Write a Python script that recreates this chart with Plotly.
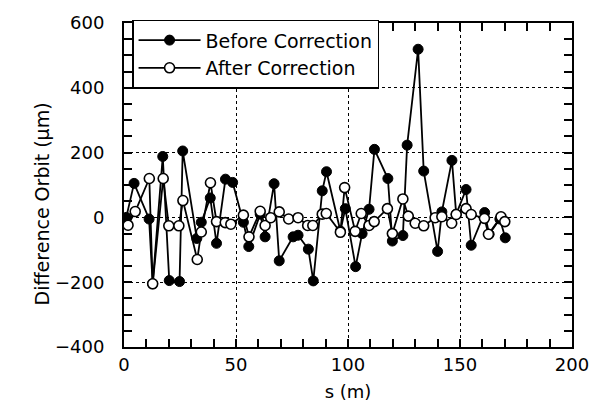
import plotly.graph_objects as go

# Before Correction (filled markers)
s_before = [1.0, 4.5, 11.2, 12.8, 17.3, 20.2, 24.8, 26.2, 32.5, 34.5, 38.5, 41.3,
            45.3, 48.5, 53.3, 55.7, 60.8, 63.0, 67.0, 69.3, 75.5, 77.7, 82.3, 84.5,
            88.5, 90.4, 96.6, 98.8, 103.4, 106.3, 109.4, 111.8, 117.8, 119.8, 124.5,
            126.4, 131.3, 133.8, 140.0, 141.9, 146.4, 148.3, 152.7, 155.0, 161.0,
            163.0, 167.8, 170.2]
y_before = [0, 105, -5, -205, 188, -195, -198, 205, -65, -15, 60, -80,
            118, 108, -15, -90, 10, -60, 104, -134, -60, -55, -98, -196,
            82, 141, -42, 27, -152, -50, 25, 210, 120, -73, -56,
            223, 519, 143, -105, 17, 176, 10, 86, -86, 15,
            -52, -5, -63]

# After Correction (open markers)
s_after = [1.8, 5.0, 11.3, 12.8, 17.5, 20.0, 24.5, 26.3, 32.7, 34.5, 38.6, 41.3,
           45.2, 47.7, 53.3, 55.8, 60.8, 63.0, 65.5, 69.3, 73.5, 77.7, 82.0, 84.3,
           88.5, 90.3, 96.6, 98.5, 103.2, 105.9, 109.4, 111.7, 117.6, 119.8, 124.5,
           126.9, 130.0, 133.8, 138.9, 141.9, 146.3, 148.3, 152.7, 155.0, 160.9,
           162.7, 168.3, 170.0]
y_after = [-24, 18, 120, -205, 120, -26, -26, 52, -130, -45, 107, -13,
           -16, -21, 7, -60, 19, -25, -1, 17, -5, -1, -25, -25,
           10, 12, -46, 92, -43, 12, -25, -13, 27, -50, 57,
           4, -18, -26, -1, 2, -18, 9, 27, 9, -3,
           -52, 2, -13]

# labelled ticks (with dotted grid) and small ticks
x_major = [0, 50, 100, 150, 200]
x_minor = [v for v in range(0, 201, 10) if v % 50 != 0]
y_major = [-400, -200, 0, 200, 400, 600]
y_minor = [v for v in range(-400, 601, 50) if v % 200 != 0]

FONT = "DejaVu Sans, Verdana, sans-serif"

fig = go.Figure()
fig.add_trace(go.Scatter(
    x=s_before, y=y_before, mode="lines+markers", name="Before Correction",
    legendgroup="a",
    line=dict(color="black", width=1.8),
    marker=dict(symbol="circle", size=10, color="black", line=dict(color="black", width=1)),
))
fig.add_trace(go.Scatter(
    x=s_after, y=y_after, mode="lines+markers", name="After Correction",
    legendgroup="b",
    line=dict(color="black", width=1.8),
    marker=dict(symbol="circle", size=10, color="white", line=dict(color="black", width=1.6)),
))

axis_common = dict(
    showline=True, linecolor="black", linewidth=2, mirror="allticks",
    ticks="inside", ticklen=8, tickwidth=1.5, tickcolor="black",
    showgrid=True, gridcolor="black", gridwidth=1.2, griddash="dot",
    zeroline=False,
    tickfont=dict(family=FONT, size=18, color="black"),
)
minor_common = dict(ticks="inside", ticklen=8, tickwidth=1.5, tickcolor="black", showgrid=False)

fig.update_layout(
    width=601, height=412,
    margin=dict(l=124, r=23, t=15, b=65),
    paper_bgcolor="white", plot_bgcolor="white",
    xaxis=dict(
        range=[0, 200], tickmode="array", tickvals=x_major,
        minor=dict(tickmode="array", tickvals=x_minor, **minor_common),
        title=dict(text="s (m)", font=dict(family=FONT, size=18, color="black"), standoff=12),
        **axis_common,
    ),
    yaxis=dict(
        range=[-400, 600], tickmode="array", tickvals=y_major,
        minor=dict(tickmode="array", tickvals=y_minor, **minor_common),
        ticklabelstandoff=14,
        **axis_common,
    ),
    annotations=[dict(
        text="Difference Orbit (µm)", textangle=-90, showarrow=False,
        xref="paper", yref="paper", x=-0.181, y=0.443,
        xanchor="center", yanchor="middle",
        font=dict(family=FONT, size=19, color="black"),
    )],
    showlegend=True,
    legend=dict(
        x=0.018, y=1.01, xanchor="left", yanchor="top",
        bgcolor="white", bordercolor="black", borderwidth=1.5,
        font=dict(family=FONT, size=19, color="black"),
        tracegroupgap=0, itemwidth=62,
    ),
)

fig.write_html("out.html")
